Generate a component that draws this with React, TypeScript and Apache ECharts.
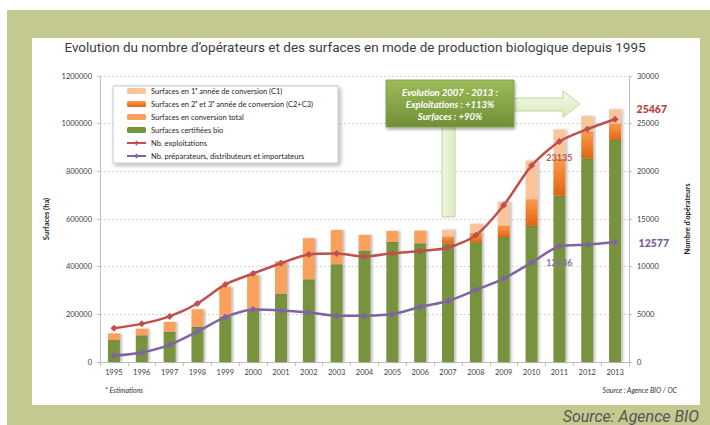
import React, { useEffect, useRef } from "react";
import * as echarts from "echarts";

const years = ["1995","1996","1997","1998","1999","2000","2001","2002","2003","2004","2005","2006","2007","2008","2009","2010","2011","2012","2013"];
const certifiees = [92000,112000,126000,147000,190000,224000,287000,347000,410000,468000,504000,498000,497000,502000,524000,571000,698000,855000,932000];
const conversionTotal = [28000,28000,42000,74000,126000,140000,135000,172000,144000,65000,46000,53000,null,null,null,null,null,null,null];
const conversionC2C3 = [null,null,null,null,null,null,null,null,null,null,null,null,30000,40000,49000,112000,154000,110000,68000];
const conversionC1 = [null,null,null,null,null,null,null,null,null,null,null,null,28000,38000,100000,162000,123000,67000,60000];
const exploitations = [3538,4000,4784,6139,8140,9283,10364,11288,11377,11059,11402,11640,11978,13298,16446,20604,23135,24425,25467];
const preparateurs = [650,1000,1800,3200,4700,5500,5400,5200,4850,4860,5000,5770,6400,7550,8740,10420,12136,12300,12577];
const leftTicks = { min: 0, max: 1200000, interval: 200000 };
const rightTicks = { min: 0, max: 30000, interval: 5000 };

const NAME_C1 = "Surfaces en 1ᵉ année de conversion (C1)";
const NAME_C23 = "Surfaces en 2ᵉ et 3ᵉ année de conversion (C2+C3)";
const NAME_TOT = "Surfaces en conversion total";
const NAME_BIO = "Surfaces certifiées bio";
const NAME_EXP = "Nb. exploitations";
const NAME_PREP = "Nb. préparateurs, distributeurs et importateurs";

const GREEN_FRAME = "#c3c98f";
const RED = "#c0504d";
const PURPLE = "#8064a2";

export default function App() {
  const ref = useRef<HTMLDivElement>(null);
  useEffect(() => {
    if (!ref.current) return;
    const chart = echarts.init(ref.current, null, { renderer: "svg" });
    const barShadow = { shadowColor: "rgba(0,0,0,0.25)", shadowBlur: 2, shadowOffsetX: 2, shadowOffsetY: 0 };
    const axisFont = { fontSize: 7.5, color: "#404040", fontFamily: "Lato", formatter: (v: any) => String(v) };
    const lightGreenGrad = new echarts.graphic.LinearGradient(0, 0, 0, 1, [
      { offset: 0, color: "#f3f9e8" },
      { offset: 1, color: "#d9ebbd" },
    ]);
    const option: any = {
      animation: false,
      grid: { left: 100, right: 81, top: 76, bottom: 63 },
      legend: {
        orient: "vertical",
        left: 113,
        top: 86,
        backgroundColor: "#fff",
        borderColor: "#c8c8c8",
        borderWidth: 1,
        shadowBlur: 4,
        shadowColor: "rgba(0,0,0,0.3)",
        shadowOffsetX: 2,
        shadowOffsetY: 2,
        padding: [1, 25, 3, 13],
        itemWidth: 19,
        itemHeight: 6,
        itemGap: 5,
        textStyle: { fontSize: 7.5, color: "#262626", fontFamily: "Lato", lineHeight: 8 },
        data: [NAME_C1, NAME_C23, NAME_TOT, NAME_BIO, NAME_EXP, NAME_PREP],
      },
      xAxis: {
        type: "category",
        data: years,
        axisLine: { lineStyle: { color: "#bfbfbf" } },
        axisTick: { show: true, length: 4, lineStyle: { color: "#bfbfbf" } },
        axisLabel: { fontSize: 7.5, color: "#404040", fontFamily: "Lato", margin: 6 },
      },
      yAxis: [
        {
          type: "value",
          ...leftTicks,
          name: "Surfaces (ha)",
          nameLocation: "middle",
          nameGap: 50,
          nameTextStyle: { fontSize: 7.5, fontWeight: "bold", color: "#262626", fontFamily: "Lato" },
          axisLine: { show: true, lineStyle: { color: "#bfbfbf" } },
          axisTick: { show: true, length: 3, lineStyle: { color: "#bfbfbf" } },
          axisLabel: { ...axisFont, margin: 8 },
          splitLine: { lineStyle: { color: "#d6d6d6", type: [2, 2] } },
        },
        {
          type: "value",
          ...rightTicks,
          name: "Nombre d'opérateurs",
          nameLocation: "middle",
          nameGap: 54,
          nameRotate: 90,
          nameTextStyle: { fontSize: 7.5, fontWeight: "bold", color: "#262626", fontFamily: "Lato" },
          axisLine: { show: true, lineStyle: { color: "#bfbfbf" } },
          axisTick: { show: true, length: 3, lineStyle: { color: "#bfbfbf" } },
          axisLabel: { ...axisFont, margin: 8 },
          splitLine: { show: false },
        },
      ],
      series: [
        {
          name: NAME_BIO, type: "bar", stack: "surf", barWidth: 12,
          itemStyle: { color: "#77933c", ...barShadow },
          data: certifiees,
        },
        {
          name: NAME_TOT, type: "bar", stack: "surf", barWidth: 12,
          itemStyle: { color: "#f9a05c", ...barShadow },
          data: conversionTotal,
        },
        {
          name: NAME_C23, type: "bar", stack: "surf", barWidth: 12,
          itemStyle: {
            color: new echarts.graphic.LinearGradient(0, 0, 0, 1, [
              { offset: 0, color: "#fb9b4c" },
              { offset: 1, color: "#e0650f" },
            ]),
            ...barShadow,
          },
          data: conversionC2C3,
        },
        {
          name: NAME_C1, type: "bar", stack: "surf", barWidth: 12,
          itemStyle: { color: "#fbc49b", ...barShadow },
          data: conversionC1,
        },
        {
          name: NAME_EXP, type: "line", yAxisIndex: 1, smooth: 0.25, z: 5,
          symbol: "diamond", symbolSize: 7,
          lineStyle: { color: RED, width: 2.5 },
          itemStyle: { color: RED },
          data: exploitations.map((v, i) =>
            i === 16
              ? { value: v, label: { show: true, position: "bottom", distance: 8, color: "#b45a57", fontSize: 9, fontFamily: "Lato", fontWeight: "bold", formatter: String(v) } }
              : i === 18
              ? { value: v, label: { show: true, position: "right", distance: 18, offset: [0, -10], color: "#b8403d", fontSize: 10.5, fontFamily: "Lato", fontWeight: 900, formatter: String(v) } }
              : v
          ),
        },
        {
          name: NAME_PREP, type: "line", yAxisIndex: 1, smooth: 0.25, z: 5,
          symbol: "diamond", symbolSize: 7,
          lineStyle: { color: PURPLE, width: 2.5 },
          itemStyle: { color: PURPLE },
          data: preparateurs.map((v, i) =>
            i === 16
              ? { value: v, label: { show: true, position: "bottom", distance: 8, color: "#8a72aa", fontSize: 9, fontFamily: "Lato", fontWeight: "bold", formatter: String(v) } }
              : i === 18
              ? { value: v, label: { show: true, position: "right", distance: 20, offset: [0, 1], color: "#7a5c9e", fontSize: 10.5, fontFamily: "Lato", fontWeight: 900, formatter: String(v) } }
              : v
          ),
        },
      ],
      graphic: [
        {
          type: "text", z: 100, left: "center", top: 40,
          style: { text: "Evolution du nombre d’opérateurs et des surfaces en mode de production biologique depuis 1995", fontSize: 13.5, fontFamily: "Roboto", fill: "#3c3c3c", x: 0, y: 0 },
        },
        {
          type: "polygon", z: 100,
          shape: { points: [[512, 98], [563, 98], [563, 91], [580, 104], [563, 117], [563, 111], [512, 111]] },
          style: { fill: lightGreenGrad, stroke: "#b5cc88", lineWidth: 0.8 },
        },
        {
          type: "rect", z: 100,
          shape: { x: 442, y: 125, width: 13, height: 92 },
          style: { fill: new echarts.graphic.LinearGradient(0, 0, 1, 0, [
            { offset: 0, color: "#eef7e0" },
            { offset: 1, color: "#dcedc2" },
          ]), stroke: "#b5cc88", lineWidth: 0.8 },
        },
        {
          type: "rect", z: 101,
          shape: { x: 386, y: 80, width: 128, height: 47 },
          style: {
            fill: new echarts.graphic.LinearGradient(0, 0, 0, 1, [
              { offset: 0, color: "#9cbc5a" },
              { offset: 1, color: "#6f8f36" },
            ]),
            stroke: "#7d9a45", lineWidth: 0.8,
            shadowBlur: 3, shadowColor: "rgba(0,0,0,0.35)", shadowOffsetX: 1, shadowOffsetY: 2,
          },
        },
        {
          type: "text", z: 102, x: 450, y: 92.5,
          style: { text: "Evolution 2007 - 2013 :", fill: "#fff", fontSize: 9.5, fontWeight: "bold", fontStyle: "italic", fontFamily: "Lato", align: "center", verticalAlign: "middle" },
        },
        {
          type: "text", z: 102, x: 450, y: 104.5,
          style: { text: "Exploitations : +113%", fill: "#fff", fontSize: 9.5, fontWeight: "bold", fontStyle: "italic", fontFamily: "Lato", align: "center", verticalAlign: "middle" },
        },
        {
          type: "text", z: 102, x: 450, y: 116.5,
          style: { text: "Surfaces : +90%", fill: "#fff", fontSize: 9.5, fontWeight: "bold", fontStyle: "italic", fontFamily: "Lato", align: "center", verticalAlign: "middle" },
        },
        {
          type: "text", z: 100, x: 105, y: 390,
          style: { text: "* Estimations", fill: "#333", fontSize: 7, fontStyle: "italic", fontFamily: "Lato", align: "left", verticalAlign: "middle" },
        },
        {
          type: "text", z: 100, x: 677, y: 390,
          style: { text: "Source : Agence BIO / OC", fill: "#333", fontSize: 7, fontStyle: "italic", fontFamily: "Lato", align: "right", verticalAlign: "middle" },
        },
        {
          type: "text", z: 100, x: 699, y: 416,
          style: { text: "Source: Agence BIO", fill: "#555", fontSize: 16, fontStyle: "italic", fontFamily: "Roboto", align: "right", verticalAlign: "middle" },
        },
      ],
    };
    chart.setOption(option);
    return () => chart.dispose();
  }, []);
  return (
    <div style={{ position: "absolute", left: 0, top: 0, width: 710, height: 425, background: "#fff", overflow: "hidden" }}>
      <div style={{ position: "absolute", left: 7, top: 10, width: 703, height: 415, background: GREEN_FRAME }} />
      <div style={{ position: "absolute", left: 32, top: 38, width: 668, height: 367, background: "#fff" }} />
      <div ref={ref} style={{ position: "absolute", left: 0, top: 0, width: 710, height: 425 }} />
    </div>
  );
}
